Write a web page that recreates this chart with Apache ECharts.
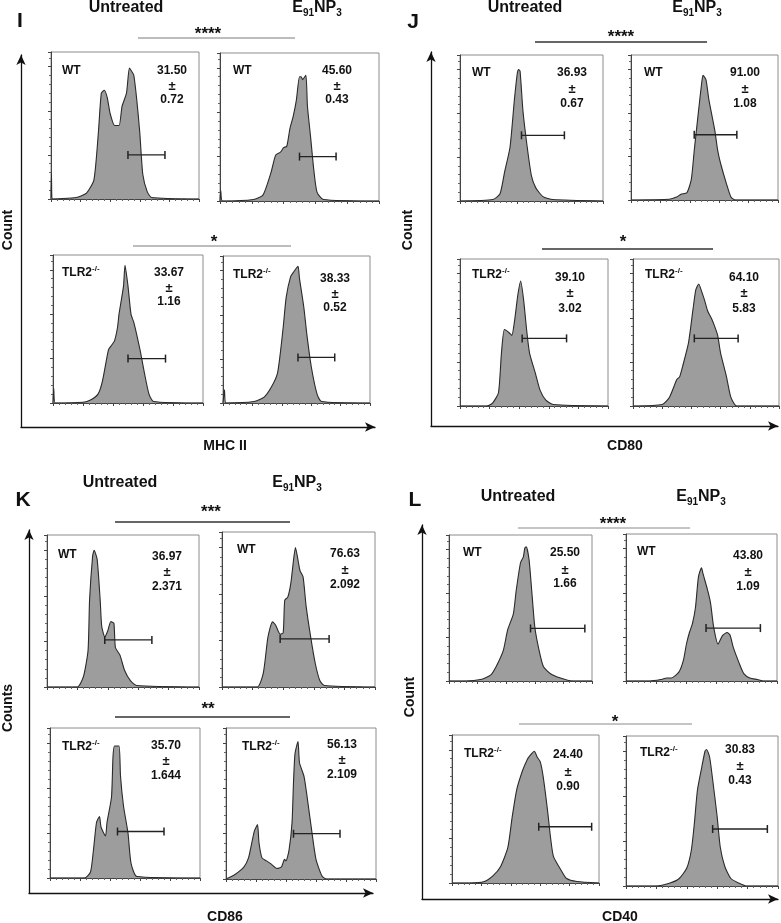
<!DOCTYPE html>
<html><head><meta charset="utf-8">
<script src="https://cdn.jsdelivr.net/npm/echarts@6/dist/echarts.min.js"></script>
<style>html,body{margin:0;padding:0;background:#fff}#c{width:781px;height:923px}</style>
</head><body><div id="c"></div><script>
// ---------- DATA (x: % of fluorescence axis, y: % of max count) ----------
const histI_WT_U = [[0,0],[0.3,17],[1,0],[17,1],[24,4],[29,13],[32,45],[34,72],[36,74],[38,69],[40,58],[43,50],[46,50],[48,63],[51,72],[53,89],[55,86],[56,84],[58,67],[60,45],[62,17],[65,5],[68,1],[100,0]];
const histI_WT_E = [[0,0],[0.5,7],[1.5,0],[21,1],[27,4],[32,19],[35,31],[38,33],[40,36],[42,37],[44,49],[46,57],[48,68],[50,84],[51,84],[52,82],[54,85],[55,64],[57,43],[59,21],[61,6],[65,1],[100,0]];
const histI_TLR_U = [[0,0],[0.5,10],[1.5,0],[20,0.5],[25,2],[30,6],[33,15],[37,36],[39,39],[41,42],[43,51],[44,60],[47,79],[48,93],[50,79],[52,60],[54,54],[58,36],[61,20],[64,6],[67,1],[100,0]];
const histI_TLR_E = [[0,0],[1,9],[2,0],[21,1],[28,4],[33,11],[37,20],[39,34],[41,52],[43,72],[46,86],[48,89],[51,93],[52,85],[55,65],[57,47],[60,25],[64,6],[67,1],[100,0]];
const histJ_WT_U = [[0,0],[23,1],[28,5],[31,19],[35,37],[38,69],[40,87],[41,90],[42,89],[44,62],[47,37],[50,17],[53,9],[58,3],[65,1],[100,0]];
const histJ_WT_E = [[0,0],[26,0.5],[31,2],[34,4],[38,5],[41,14],[43,34],[46,62],[48,80],[49,86],[51,83],[53,69],[57,48],[59,34],[61,25],[65,11],[68,2],[71,0],[100,0]];
const histJ_TLR_U = [[0,0],[18,0],[22,2],[26,9],[28,36],[30,52],[33,50],[35,48],[37,59],[39,75],[41,85],[43,72],[45,52],[47,36],[51,22],[54,11],[58,4],[63,1],[100,0]];
const histJ_TLR_E = [[0,0],[20,1],[25,6],[30,18],[32,20],[34,27],[38,43],[41,65],[43,79],[45,83],[47,78],[49,72],[51,65],[54,59],[56,54],[58,48],[60,36],[64,20],[67,6],[71,0],[100,0]];
const histK_WT_U = [[0,0],[20,0],[24,7],[27,24],[28,57],[30,86],[31,90],[33,84],[35,57],[36,40],[38,33],[40,37],[42,43],[44,42],[45,26],[48,21],[51,11],[55,4],[59,1],[100,0]];
const histK_WT_E = [[0,0],[23,0],[27,9],[30,32],[33,42],[35,40],[38,34],[40,35],[41,56],[43,58],[45,67],[47,84],[48,90],[50,80],[51,75],[53,71],[55,52],[58,32],[61,15],[64,4],[67,1],[100,0]];
const histK_TLR_U = [[0,0],[23,0],[27,4],[29,19],[31,37],[33,41],[34,34],[37,28],[38,37],[41,54],[42,81],[43,88],[46,88],[47,68],[49,48],[52,30],[54,10],[58,1],[100,0]];
const histK_TLR_E = [[0,0],[6,3],[12,8],[15,14],[17,23],[19,32],[21,36],[22,24],[24,14],[27,12],[30,10],[34,7],[37,8],[39,13],[40,12],[42,19],[44,37],[45,64],[46,83],[48,91],[49,77],[52,68],[54,55],[57,33],[60,13],[64,2],[67,0],[100,0]];
const histL_WT_U = [[0,0],[12,0],[22,1],[29,4],[33,10],[38,21],[41,35],[45,46],[47,62],[50,81],[52,85],[53,91],[54,92],[56,83],[58,60],[60,37],[63,21],[66,10],[71,5],[78,2],[86,0],[100,0]];
const histL_WT_E = [[0,0],[16,0],[23,1],[27,2],[30,2],[35,6],[38,14],[40,25],[42,33],[44,39],[46,50],[48,71],[50,77],[51,73],[54,62],[56,53],[58,37],[61,25],[62,27],[64,31],[67,33],[69,31],[71,23],[75,12],[78,5],[82,2],[87,1],[91,0],[100,0]];
const histL_TLR_U = [[0,0],[12,0],[22,1],[28,5],[33,11],[38,24],[41,45],[44,63],[48,76],[51,83],[53,86],[56,89],[58,85],[60,82],[62,72],[65,49],[67,31],[69,18],[74,9],[78,3],[85,1],[100,0]];
const histL_TLR_E = [[0,0],[20,0],[29,2],[35,5],[40,12],[43,24],[45,42],[47,64],[50,80],[52,90],[53,91],[55,86],[57,71],[60,46],[62,26],[65,13],[69,5],[74,2],[79,0],[100,0]];

// gates: [start, end, height]
const gatesI = [[52,77,30],[50,73,30],[50,75,30],[51,76,31]];
const gatesJ = [[43,73,45],[43,72,45],[42,72,46],[42,72,46]];
const gatesK = [[38,69,31],[38,70,31],[45,76,31],[45,76,30]];
const gatesL = [[57,95,36],[53,89,36],[59,95,38],[57,93,38]];

// mean ± sd (%)
const meansI = ['31.50','45.60','33.67','38.33'], sdsI = ['0.72','0.43','1.16','0.52'];
const meansJ = ['36.93','91.00','39.10','64.10'], sdsJ = ['0.67','1.08','3.02','5.83'];
const meansK = ['36.97','76.63','35.70','56.13'], sdsK = ['2.371','2.092','1.644','2.109'];
const meansL = ['25.50','43.80','24.40','30.83'], sdsL = ['1.66','1.09','0.90','0.43'];

const groups = ['WT','WT','TLR2','TLR2'];
const sigI = ['****','*'], sigJ = ['****','*'], sigK = ['***','**'], sigL = ['****','*'];
const markers = {I:'MHC II', J:'CD80', K:'CD86', L:'CD40'};
const yTitles = {I:'Count', J:'Count', K:'Counts', L:'Count'};

// ---------- LAYOUT ----------
// sigPos: [starX, starY, lineX1, lineX2, lineY, color, width]
const layout = {
  I:{hist:[histI_WT_U,histI_WT_E,histI_TLR_U,histI_TLR_E], gates:gatesI, means:meansI, sds:sdsI, sig:sigI,
     boxes:[[51,52,148,147],[220,53,159,148],[53,255,150,148],[223,256,147,147]],
     stats:[[172,71,86,100],[337,71,86,100],[169,273,288,302],[335,279,294,308]],
     labels:[[62,71],[233,71],[62,273],[233,275]],
     axes:[21,55,354,372], letter:[20,21], untr:[126,8], e91:[317,8],
     sigPos:[[208,30,138,295,38,'#7a7a7a',1],[214,238,133,291,246,'#7a7a7a',1]],
     xl:[225,446], yl:[8,230]},
  J:{hist:[histJ_WT_U,histJ_WT_E,histJ_TLR_U,histJ_TLR_E], gates:gatesJ, means:meansJ, sds:sdsJ, sig:sigJ,
     boxes:[[460,55,143,146],[631,55,147,145],[460,259,148,147],[633,259,146,147]],
     stats:[[572,73,89,104],[745,73,89,104],[570,278,293,309],[744,278,293,309]],
     labels:[[472,73],[644,73],[472,275],[645,275]],
     axes:[431,52,347,374], letter:[413,22], untr:[525,8], e91:[697,8],
     sigPos:[[621,33,535,707,42,'#333',1.3],[623,238,542,713,249,'#333',1.3]],
     xl:[625,446], yl:[408,230]},
  K:{hist:[histK_WT_U,histK_WT_E,histK_TLR_U,histK_TLR_E], gates:gatesK, means:meansK, sds:sdsK, sig:sigK,
     boxes:[[47,535,152,152],[222,532,153,155],[50,728,150,150],[226,728,150,151]],
     stats:[[167,557,572,587],[345,554,570,585],[166,746,761,776],[342,745,760,775]],
     labels:[[58,555],[237,550],[62,747],[242,747]],
     axes:[29,530,344,363], letter:[23,500], untr:[120,483], e91:[297,483],
     sigPos:[[211,508,115,290,522,'#333',1.3],[208,705,115,290,717,'#333',1.3]],
     xl:[225,917], yl:[8,708]},
  L:{hist:[histL_WT_U,histL_WT_E,histL_TLR_U,histL_TLR_E], gates:gatesL, means:meansL, sds:sdsL, sig:sigL,
     boxes:[[449,535,143,146],[626,534,151,147],[452,735,147,148],[626,736,152,150]],
     stats:[[565,553,570,584],[748,556,572,587],[568,755,772,787],[740,750,766,781]],
     labels:[[463,553],[637,552],[464,754],[640,753]],
     axes:[422,525,356,374], letter:[415,500], untr:[518,497], e91:[701,497],
     sigPos:[[613,520,518,690,528,'#8a8a8a',1],[615,718,519,692,724,'#8a8a8a',1]],
     xl:[620,917], yl:[410,697]}
};

const FF = '"Liberation Sans", Arial, Helvetica, sans-serif';
const mctx = document.createElement('canvas').getContext('2d');
function tw(t, size){ mctx.font = 'bold ' + size + 'px ' + FF; return mctx.measureText(t).width; }

const grid=[], xAxis=[], yAxis=[], series=[], graphic=[];
function txt(text, x, y, size, align, va, rot, fill){
  graphic.push({type:'text', x:x, y:y, rotation: rot||0, silent:true, z:100,
    style:{text:text, font:'bold '+size+'px '+FF, fill: fill||'#111',
      align: align||'center', verticalAlign: va||'middle',
      textAlign: align||'center', textVerticalAlign: va||'middle'}});
}
function parts(list, x, y, alignCenter){
  let total = 0; list.forEach(p => total += tw(p[0], p[1]));
  let cx = alignCenter ? x - total/2 : x;
  list.forEach(p => { txt(p[0], cx, y + p[2], p[1], 'left', 'middle'); cx += tw(p[0], p[1]); });
}
function line(x1,y1,x2,y2,color,w){
  graphic.push({type:'line', silent:true, z:90, shape:{x1:x1,y1:y1,x2:x2,y2:y2}, style:{stroke:color, lineWidth:w}});
}

Object.keys(layout).forEach(key => {
  const P = layout[key];
  const ai = grid.length;
  grid.push({left:P.axes[0], top:P.axes[1], width:P.axes[2], height:P.axes[3], show:false});
  const arrowLine = {show:true, onZero:false, symbol:['none','arrow'], symbolSize:[7,10], lineStyle:{color:'#111', width:1.3}};
  xAxis.push({type:'value', gridIndex:ai, min:0, max:1, axisLine:arrowLine, axisTick:{show:false}, axisLabel:{show:false}, splitLine:{show:false}});
  yAxis.push({type:'value', gridIndex:ai, min:0, max:1, axisLine:arrowLine, axisTick:{show:false}, axisLabel:{show:false}, splitLine:{show:false}});

  for (let i=0;i<4;i++){
    const b = P.boxes[i], gi = grid.length;
    grid.push({left:b[0], top:b[1], width:b[2], height:b[3], show:true, borderColor:'#8c8c8c', borderWidth:1, backgroundColor:'#fff'});
    xAxis.push({type:'value', gridIndex:gi, min:0, max:100, interval:20,
      axisLine:{show:true, onZero:false, lineStyle:{color:'#444', width:1}},
      axisTick:{show:true, length:3, lineStyle:{color:'#444'}},
      minorTick:{show:true, splitNumber:5, length:2, lineStyle:{color:'#666'}},
      axisLabel:{show:false}, splitLine:{show:false}, minorSplitLine:{show:false}});
    yAxis.push({type:'value', gridIndex:gi, min:0, max:100, interval:30,
      axisLine:{show:true, onZero:false, lineStyle:{color:'#444', width:1}},
      axisTick:{show:true, length:3, lineStyle:{color:'#444'}},
      minorTick:{show:true, splitNumber:5, length:2, lineStyle:{color:'#666'}},
      axisLabel:{show:false}, splitLine:{show:false}, minorSplitLine:{show:false}});
    series.push({type:'line', xAxisIndex:gi, yAxisIndex:gi, data:P.hist[i], showSymbol:false, symbol:'none',
      smooth:0.2, silent:true, animation:false, z:2,
      lineStyle:{color:'#2a2a2a', width:1.1}, areaStyle:{color:'#9d9d9d', opacity:1}});
    const g = P.gates[i];
    series.push({type:'line', xAxisIndex:gi, yAxisIndex:gi, data:[[g[0],g[2]],[g[1],g[2]]],
      symbol:'rect', symbolSize:[1.5,8], showSymbol:true, silent:true, animation:false, z:5,
      itemStyle:{color:'#222'}, lineStyle:{color:'#222', width:1.3}});
    const s = P.stats[i];
    txt(P.means[i], s[0], s[1], 12);
    txt('±', s[0], s[2], 13);
    txt(P.sds[i], s[0], s[3], 12);
    const l = P.labels[i];
    if (groups[i] === 'WT') txt('WT', l[0], l[1], 12, 'left');
    else parts([['TLR2',12,0],['-/-',8,-4]], l[0], l[1], false);
  }
  txt(key, P.letter[0], P.letter[1], 21);
  txt('Untreated', P.untr[0], P.untr[1], 16);
  parts([['E',16,0],['91',10,5],['NP',16,0],['3',10,5]], P.e91[0], P.e91[1], true);
  P.sigPos.forEach((sp, k) => {
    txt(P.sig[k], sp[0], sp[1] + 4, 17, 'center', 'middle');
    line(sp[2], sp[4], sp[3], sp[4], sp[5], sp[6]);
  });
  txt(markers[key], P.xl[0], P.xl[1], 14);
  txt(yTitles[key], P.yl[0], P.yl[1], 14, 'center', 'middle', Math.PI/2);
});

const chart = echarts.init(document.getElementById('c'), null, {renderer:'canvas'});
chart.setOption({animation:false, backgroundColor:'#fff', grid, xAxis, yAxis, series, graphic});
</script></body></html>
